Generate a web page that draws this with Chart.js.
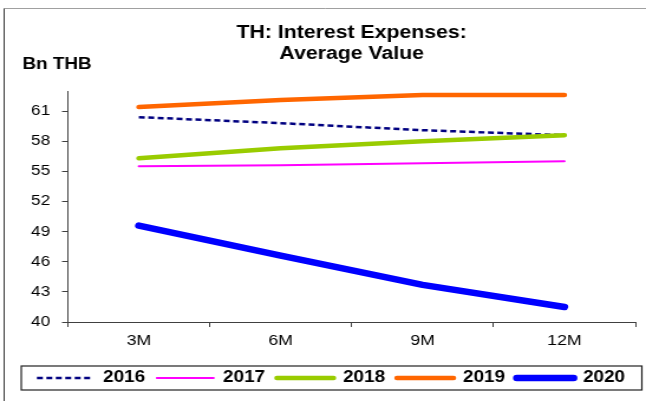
<!DOCTYPE html>
<html>
<head>
<meta charset="utf-8">
<title>TH: Interest Expenses</title>
<script src="https://cdn.jsdelivr.net/npm/chart.js@4/dist/chart.umd.min.js"></script>
<style>
  body { margin: 0; background: #fff; }
</style>
</head>
<body>
<!-- the source picture is stretched sideways, so the canvas is drawn narrower and widened by its style -->
<canvas id="chart" width="547" height="401" style="width: 646px; height: 401px;"></canvas>
<script>
const periods = ['3M', '6M', '9M', '12M'];
const years = ['2016', '2017', '2018', '2019', '2020'];

// Bn THB
const values2016 = [60.4, 59.8, 59.1, 58.6];
const values2017 = [55.5, 55.6, 55.8, 56.0];
const values2018 = [56.3, 57.3, 58.0, 58.6];
const values2019 = [61.4, 62.1, 62.6, 62.6];
const values2020 = [49.6, 46.6, 43.7, 41.5];

const yTicks = [40, 43, 46, 49, 52, 55, 58, 61];
const yMin = 40;
const yMax = 63;

const series = [values2016, values2017, values2018, values2019, values2020];
const colors = ['#000080', '#ff00ff', '#99cc00', '#ff6600', '#0000ff'];
const widths = [2.5, 2, 4.5, 4.5, 6.5];
const dashes = [[5, 3], [], [], [], []];
const caps = ['butt', 'round', 'round', 'round', 'round'];

const fontFamily = "Arial, 'Liberation Sans', sans-serif";

const framePlugin = {
    id: 'frame',
    beforeDraw(chart) {
        const ctx = chart.ctx;
        ctx.save();
        ctx.fillStyle = '#fff';
        ctx.fillRect(0, 0, chart.width, chart.height);
        ctx.lineWidth = 1;
        ctx.strokeStyle = '#a0a0a0';
        ctx.beginPath();
        ctx.moveTo(3.5, 8.5);
        ctx.lineTo(chart.width, 8.5);
        ctx.stroke();
        ctx.strokeStyle = '#404040';
        ctx.beginPath();
        ctx.moveTo(3.5, 8.5);
        ctx.lineTo(3.5, chart.height);
        ctx.stroke();
        // unit label above the y axis
        ctx.fillStyle = '#000';
        ctx.font = 'bold 16px ' + fontFamily;
        ctx.textBaseline = 'alphabetic';
        ctx.fillText('Bn THB', 19, 69);
        ctx.restore();
    },
    afterDraw(chart) {
        // the box round the legend
        const ctx = chart.ctx;
        const legend = chart.legend;
        const hit = legend.legendHitBoxes[0];
        const mid = hit.top + hit.height / 2;
        ctx.save();
        ctx.strokeStyle = '#222';
        ctx.lineWidth = 1.2;
        ctx.strokeRect(legend.left + 0.5, mid - 12, chart.width - 4 - legend.left, 24);
        ctx.restore();
    }
};

function makeDataset(i) {
    return {
        label: years[i],
        data: series[i],
        borderColor: colors[i],
        backgroundColor: colors[i],
        borderWidth: widths[i],
        borderDash: dashes[i],
        borderCapStyle: caps[i],
        // later years sit on top
        order: years.length - i
    };
}

// with usePointStyle the legend takes the point style, so put the line dash back
function legendLabels(chart) {
    const items = Chart.defaults.plugins.legend.labels.generateLabels(chart);
    items.forEach(item => {
        item.lineDash = dashes[item.datasetIndex];
        item.lineCap = caps[item.datasetIndex];
    });
    return items;
}

const datasets = [];
for (let i = 0; i < years.length; i++) {
    datasets.push(makeDataset(i));
}

new Chart(document.getElementById('chart'), {
    type: 'line',
    data: {
        labels: periods,
        datasets: datasets
    },
    options: {
        responsive: false,
        animation: false,
        devicePixelRatio: 1,
        layout: {
            padding: { left: 17.5, right: 4, top: 0, bottom: 5 }
        },
        elements: {
            point: { radius: 0, hoverRadius: 0 },
            line: { tension: 0, borderJoinStyle: 'round' }
        },
        plugins: {
            title: {
                display: true,
                text: ['TH: Interest Expenses:', 'Average Value'],
                fullSize: false,
                color: '#000',
                font: { family: fontFamily, size: 18, weight: 'bold', lineHeight: 1.17 },
                padding: { top: 22.5, bottom: 26.4 }
            },
            legend: {
                position: 'bottom',
                labels: {
                    usePointStyle: true,
                    pointStyle: 'line',
                    pointStyleWidth: 48,
                    padding: 10,
                    color: '#000',
                    font: { family: fontFamily, size: 16, weight: 'bold' },
                    generateLabels: legendLabels,
                    sort: (a, b) => a.datasetIndex - b.datasetIndex
                }
            },
            tooltip: { enabled: false }
        },
        scales: {
            x: {
                offset: true,
                grid: { offset: true, drawOnChartArea: false, tickLength: 5, color: '#404040' },
                border: { color: '#404040' },
                ticks: { color: '#000', font: { family: fontFamily, size: 15 }, padding: 5 },
                afterFit: scale => { scale.height = 38; }
            },
            y: {
                min: yMin,
                max: yMax,
                grid: { drawOnChartArea: false, tickLength: 5, color: '#404040' },
                border: { color: '#404040' },
                ticks: { color: '#000', font: { family: fontFamily, size: 14.5 }, padding: 10 },
                afterBuildTicks: scale => { scale.ticks = yTicks.map(v => ({ value: v })); },
                afterFit: scale => { scale.width = 40; }
            },
            // empty axis, only keeps a small gap right of the plot
            gap: {
                position: 'right',
                grid: { display: false },
                ticks: { display: false },
                border: { display: false },
                afterFit: scale => { scale.width = 5; }
            }
        }
    },
    plugins: [framePlugin]
});
</script>
</body>
</html>
